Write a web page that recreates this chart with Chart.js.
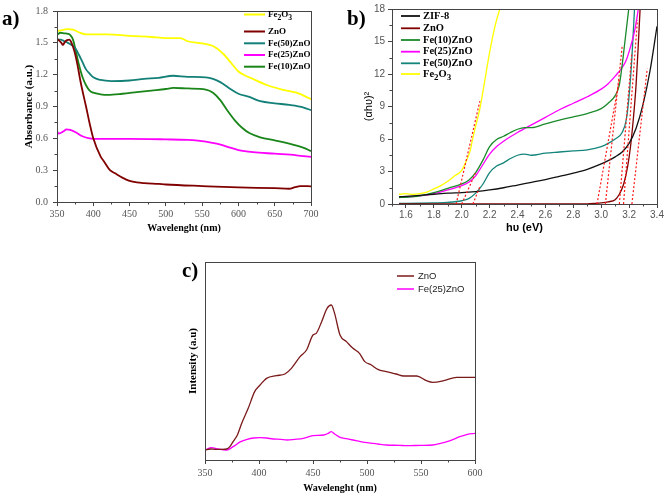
<!DOCTYPE html>
<html>
<head>
<meta charset="utf-8">
<script src="https://cdn.jsdelivr.net/npm/chart.js@4.4.1/dist/chart.umd.min.js"></script>
<style>
	body { margin: 0; background: #fff; width: 665px; height: 499px; position: relative; overflow: hidden; }
	canvas { position: absolute; }
	.tag { position: absolute; font: bold 21px 'Liberation Serif', 'Times New Roman', serif; color: #000; }
</style>
</head>
<body>
<canvas id="absorb" width="330" height="240" style="left:0;top:0"></canvas>
<canvas id="tauc" width="330" height="240" style="left:335px;top:0"></canvas>
<canvas id="pl" width="330" height="249" style="left:160px;top:250px"></canvas>
<div class="tag" style="left:2px;top:6px">a)</div>
<div class="tag" style="left:347px;top:6px">b)</div>
<div class="tag" style="left:182px;top:258px">c)</div>
<script>
// ---- a) absorbance vs wavelength ----
var absXTicks = [ 350, 400, 450, 500, 550, 600, 650, 700 ];
var absYTicks = [ 0, 0.3, 0.6, 0.9, 1.2, 1.5, 1.8 ];

var absFe2o3X = [ 350, 360, 365, 372, 380, 390, 400, 420, 450, 480, 500, 520, 530, 550, 565, 580, 590, 600, 610, 620, 640, 660, 680, 700 ];
var absFe2o3Y = [ 1.61, 1.625, 1.63, 1.625, 1.6, 1.58, 1.58, 1.58, 1.565, 1.555, 1.545, 1.545, 1.515, 1.495, 1.47, 1.39, 1.31, 1.23, 1.19, 1.16, 1.1, 1.06, 1.03, 0.97 ];

var absZnoX = [ 350, 353, 356, 358, 361, 364, 367, 370, 374, 378, 382, 386, 390, 395, 400, 410, 415, 423, 430, 440, 450, 460, 470, 490, 500, 550, 600, 650, 670, 678, 685, 700 ];
var absZnoY = [ 1.54, 1.52, 1.5, 1.48, 1.51, 1.525, 1.53, 1.5, 1.42, 1.3, 1.15, 1.02, 0.9, 0.74, 0.6, 0.43, 0.38, 0.3, 0.27, 0.23, 0.2, 0.185, 0.178, 0.17, 0.165, 0.15, 0.137, 0.13, 0.125, 0.14, 0.15, 0.148 ];

var absFe50X = [ 350, 355, 360, 365, 370, 375, 380, 385, 390, 395, 400, 410, 425, 450, 470, 490, 510, 530, 555, 565, 575, 590, 600, 615, 630, 650, 670, 690, 700 ];
var absFe50Y = [ 1.53, 1.53, 1.515, 1.5, 1.48, 1.45, 1.39, 1.32, 1.25, 1.21, 1.175, 1.15, 1.14, 1.145, 1.16, 1.17, 1.19, 1.18, 1.175, 1.16, 1.13, 1.06, 1.02, 0.99, 0.95, 0.93, 0.915, 0.89, 0.865 ];

var absFe25X = [ 350, 352, 355, 360, 363, 368, 375, 385, 395, 405, 450, 500, 530, 555, 570, 585, 600, 620, 650, 680, 700 ];
var absFe25Y = [ 0.67, 0.645, 0.65, 0.67, 0.685, 0.68, 0.66, 0.62, 0.6, 0.595, 0.595, 0.59, 0.585, 0.57, 0.55, 0.52, 0.49, 0.47, 0.455, 0.44, 0.425 ];

var absFe10X = [ 350, 355, 360, 365, 368, 372, 376, 380, 385, 390, 395, 400, 410, 420, 440, 460, 480, 500, 510, 530, 555, 565, 575, 585, 595, 605, 615, 630, 650, 670, 690, 700 ];
var absFe10Y = [ 1.575, 1.595, 1.59, 1.585, 1.575, 1.53, 1.42, 1.3, 1.18, 1.1, 1.05, 1.03, 1.015, 1.01, 1.02, 1.035, 1.05, 1.065, 1.075, 1.07, 1.06, 1.03, 0.96, 0.86, 0.77, 0.7, 0.65, 0.61, 0.58, 0.55, 0.51, 0.48 ];

// ---- b) Tauc plot ----
var taucXTicks = [ 1.6, 1.8, 2.0, 2.2, 2.4, 2.6, 2.8, 3.0, 3.2, 3.4 ];
var taucYTicks = [ 0, 3, 6, 9, 12, 15, 18 ];

var taucZifX = [ 1.55, 1.6, 1.7, 1.8, 1.9, 2.0, 2.1, 2.2, 2.3, 2.4, 2.5, 2.6, 2.7, 2.8, 2.9, 3.0, 3.05, 3.1, 3.15, 3.2, 3.25, 3.3, 3.35, 3.4 ];
var taucZifY = [ 0.65, 0.7, 0.8, 0.9, 1.0, 1.05, 1.15, 1.3, 1.5, 1.75, 2.0, 2.25, 2.55, 2.85, 3.2, 3.7, 4.0, 4.35, 4.8, 5.6, 7.0, 9.2, 12.3, 16.4 ];

var taucZnoX = [ 1.55, 2.0, 2.5, 2.9, 2.95, 3.0, 3.05, 3.1, 3.13, 3.16, 3.19, 3.21, 3.23, 3.25, 3.265, 3.28 ];
var taucZnoY = [ 0, 0, 0, 0.02, 0.05, 0.1, 0.2, 0.4, 0.9, 1.8, 3.5, 5.3, 7.8, 11, 14.5, 18.3 ];

var taucFe10X = [ 1.55, 1.6, 1.7, 1.8, 1.9, 2.0, 2.05, 2.1, 2.15, 2.2, 2.25, 2.3, 2.35, 2.4, 2.45, 2.5, 2.6, 2.7, 2.8, 2.9, 3.0, 3.05, 3.1, 3.13, 3.15, 3.17, 3.2 ];
var taucFe10Y = [ 0.6, 0.62, 0.75, 1.05, 1.45, 1.85, 2.2, 2.9, 4.0, 5.3, 5.95, 6.25, 6.6, 6.9, 7.05, 7.05, 7.4, 7.75, 8.05, 8.35, 8.8, 9.3, 10.0, 11.0, 12.8, 15.0, 18.3 ];

var taucFe25X = [ 1.55, 1.6, 1.7, 1.8, 1.9, 2.0, 2.05, 2.1, 2.15, 2.2, 2.25, 2.3, 2.4, 2.5, 2.6, 2.7, 2.8, 2.9, 3.0, 3.05, 3.1, 3.15, 3.18, 3.21, 3.24, 3.27 ];
var taucFe25Y = [ 0.65, 0.65, 0.75, 0.95, 1.3, 1.7, 2.0, 2.6, 3.6, 4.6, 5.3, 5.8, 6.6, 7.3, 8.0, 8.7, 9.3, 9.9, 10.6, 11.1, 11.8, 12.6, 13.3, 14.5, 16, 18.3 ];

var taucFe50X = [ 1.55, 1.7, 1.8, 1.9, 2.0, 2.05, 2.1, 2.15, 2.2, 2.25, 2.3, 2.35, 2.4, 2.45, 2.5, 2.6, 2.7, 2.8, 2.9, 3.0, 3.05, 3.1, 3.15, 3.18, 3.2, 3.22, 3.24 ];
var taucFe50Y = [ 0.05, 0.07, 0.1, 0.15, 0.3, 0.5, 1.0, 1.8, 2.9, 3.5, 3.8, 4.2, 4.5, 4.6, 4.5, 4.7, 4.8, 4.9, 5.0, 5.3, 5.6, 6.0, 6.6, 7.8, 10, 13.5, 18.3 ];

var taucFe2o3X = [ 1.55, 1.6, 1.65, 1.7, 1.75, 1.8, 1.85, 1.9, 1.95, 2.0, 2.03, 2.06, 2.08, 2.1, 2.13, 2.16, 2.2, 2.24, 2.28 ];
var taucFe2o3Y = [ 0.9, 0.95, 0.88, 0.95, 1.1, 1.4, 1.7, 2.1, 2.6, 3.1, 3.9, 4.9, 6.1, 7.2, 8.8, 11, 14, 16.5, 18.3 ];

// band-gap extrapolation lines: [x0, y0, x1, y1]
var taucTangents = [
	[ 1.96, 0, 2.13, 9.5 ],
	[ 2.0, 0, 2.1, 2.9 ],
	[ 2.08, 0, 2.13, 1.6 ],
	[ 2.97, 0, 3.13, 11.5 ],
	[ 3.03, 0, 3.15, 14.5 ],
	[ 3.13, 0, 3.22, 14 ],
	[ 3.16, 0, 3.26, 17 ],
	[ 3.22, 0, 3.33, 12.5 ],
];

// ---- c) photoluminescence ----
var plXTicks = [ 350, 400, 450, 500, 550, 600 ];

var plZnoX = [ 350, 355, 360, 366, 370, 373, 376, 380, 384, 390, 396, 401, 407, 416, 424, 430, 438, 444, 450, 453, 458, 463, 467, 470, 475, 481, 487, 493, 498, 504, 510, 518, 527, 534, 546, 555, 561, 571, 583, 600 ];
var plZnoY = [ 30, 33, 32, 32, 33, 40, 55, 75, 110, 155, 205, 225, 245, 253, 258, 275, 310, 330, 375, 380, 415, 455, 465, 440, 375, 355, 335, 320, 295, 285, 272, 265, 258, 252, 252, 238, 233, 238, 248, 248 ];

var plFe25X = [ 350, 356, 362, 370, 376, 383, 389, 395, 401, 407, 413, 420, 426, 433, 441, 450, 460, 464, 467, 470, 475, 481, 487, 494, 500, 510, 518, 530, 537, 550, 561, 568, 574, 580, 586, 593, 600 ];
var plFe25Y = [ 30, 37, 33, 30, 40, 55, 62, 66, 67, 66, 63, 62, 60, 62, 65, 73, 75, 80, 85, 78, 68, 64, 60, 55, 52, 48, 45, 44, 43, 44, 45, 50, 55, 62, 70, 77, 80 ];

var SERIF = "'Liberation Serif', 'Times New Roman', serif";
var SANS  = "'Liberation Sans', Arial, sans-serif";

function toPoints( xs, ys ) {
	return xs.map( function ( x, i ) {
		return { x: x, y: ys[ i ] };
	} );
}

// midpoints between major ticks, used as minor ticks
function minorTicks( major ) {
	var out = [];
	for ( var i = 0; i < major.length - 1; i++ ) {
		out.push( ( major[ i ] + major[ i + 1 ] ) / 2 );
	}
	return out;
}

function curve( label, color, xs, ys, width ) {
	return {
		label: label,
		data: toPoints( xs, ys ),
		borderColor: color,
		borderWidth: width,
		pointRadius: 0,
		fill: false,
		cubicInterpolationMode: 'monotone',
	};
}

// box round the plot area, plus small minor tick marks
var frameAndMinor = {
	id: 'frameAndMinor',
	afterDatasetsDraw: function ( chart, args, opts ) {
		var ctx = chart.ctx;
		var a   = chart.chartArea;
		ctx.save();
		ctx.strokeStyle = opts.color;
		ctx.lineWidth   = 1;
		ctx.strokeRect( Math.round( a.left ) + 0.5, Math.round( a.top ) + 0.5, Math.round( a.right - a.left ), Math.round( a.bottom - a.top ) );
		ctx.beginPath();
		( opts.xMinor || [] ).forEach( function ( v ) {
			var p = Math.round( chart.scales.x.getPixelForValue( v ) ) + 0.5;
			ctx.moveTo( p, a.bottom );
			ctx.lineTo( p, a.bottom + 2.5 );
		} );
		( opts.yMinor || [] ).forEach( function ( v ) {
			var p = Math.round( chart.scales.y.getPixelForValue( v ) ) + 0.5;
			ctx.moveTo( a.left, p );
			ctx.lineTo( a.left - 2.5, p );
		} );
		ctx.stroke();
		ctx.restore();
	},
};

// draws a label where "_x" means x is a subscript
function drawRichText( ctx, text, x, y, size, style, family ) {
	var parts = text.split( /(_.)/ );
	parts.forEach( function ( p ) {
		if ( ! p ) {
			return;
		}
		var sub = p.charAt( 0 ) === '_';
		var t   = sub ? p.charAt( 1 ) : p;
		ctx.font = style + ' ' + ( sub ? size * 0.85 : size ) + 'px ' + family;
		ctx.fillText( t, x, sub ? y + size * 0.35 : y );
		x += ctx.measureText( t ).width;
	} );
}

// legend drawn inside the plot area
var insideLegend = {
	id: 'insideLegend',
	afterDraw: function ( chart, args, opts ) {
		var ctx   = chart.ctx;
		var items = chart.data.datasets.filter( function ( d ) { return ! d.tangent; } );
		ctx.save();
		ctx.textBaseline = 'middle';
		items.forEach( function ( d, i ) {
			var y = opts.rows[ i ];
			ctx.strokeStyle = d.borderColor;
			ctx.lineWidth   = opts.lineWidth;
			ctx.beginPath();
			ctx.moveTo( opts.x, y );
			ctx.lineTo( opts.x + opts.swatch, y );
			ctx.stroke();
			ctx.fillStyle = opts.color;
			drawRichText( ctx, d.label, opts.x + opts.swatch + opts.gap, y, opts.size, opts.style, opts.family );
		} );
		ctx.restore();
	},
};

function axis( ticks, min, max, o ) {
	return {
		type: 'linear',
		min: min,
		max: max,
		afterBuildTicks: function ( scale ) {
			scale.ticks = ticks.map( function ( v ) { return { value: v }; } );
		},
		afterFit: function ( scale ) {
			if ( scale.isHorizontal() ) {
				scale.height = o.size;
			} else {
				scale.width = o.size;
			}
		},
		border: { display: false },
		grid: {
			drawOnChartArea: false,
			drawTicks: o.showTicks !== false,
			tickLength: 4,
			color: '#444',
		},
		ticks: {
			display: o.showTicks !== false,
			padding: o.tickPad,
			color: '#555',
			font: o.tickFont,
			callback: o.format,
		},
		title: {
			display: true,
			text: o.title,
			color: '#000',
			font: o.titleFont,
			padding: o.titlePad,
		},
	};
}

var baseOptions = {
	responsive: false,
	animation: false,
	devicePixelRatio: 1,
	events: [],
};

// a)
new Chart( document.getElementById( 'absorb' ), {
	type: 'line',
	data: {
		datasets: [
			curve( 'Fe_2O_3', '#ffff00', absFe2o3X, absFe2o3Y, 1.8 ),
			curve( 'ZnO', '#800000', absZnoX, absZnoY, 1.8 ),
			curve( 'Fe(50)ZnO', '#138078', absFe50X, absFe50Y, 1.8 ),
			curve( 'Fe(25)ZnO', '#ff00ff', absFe25X, absFe25Y, 1.8 ),
			curve( 'Fe(10)ZnO', '#1a861a', absFe10X, absFe10Y, 1.8 ),
		],
	},
	plugins: [ frameAndMinor, insideLegend ],
	options: Object.assign( {}, baseOptions, {
		layout: { padding: { left: 0, right: 19, top: 7, bottom: 0 } },
		plugins: {
			legend: { display: false },
			tooltip: { enabled: false },
			frameAndMinor: { color: '#444', xMinor: minorTicks( absXTicks ), yMinor: minorTicks( absYTicks ) },
			insideLegend: { x: 244, swatch: 21, gap: 3, lineWidth: 2, size: 9, style: 'bold', family: SERIF, color: '#000', rows: [ 14.5, 31.5, 43.3, 55, 66.7 ] },
		},
		scales: {
			x: axis( absXTicks, 350, 700, {
				size: 38, tickPad: 2, tickFont: { family: SERIF, size: 10 },
				title: 'Wavelenght (nm)', titleFont: { family: SERIF, size: 10, weight: 'bold' }, titlePad: { top: 0, bottom: 6 },
			} ),
			y: axis( absYTicks, 0, 1.8, {
				size: 57, tickPad: 5, tickFont: { family: SERIF, size: 10 },
				format: function ( v ) { return Number( v ).toFixed( 1 ); },
				title: 'Absorbance (a.u.)', titleFont: { family: SERIF, size: 11, weight: 'bold' }, titlePad: { top: 23, bottom: 0 },
			} ),
		},
	} ),
} );

// b)
var tangentSets = taucTangents.map( function ( t ) {
	return {
		tangent: true,
		data: [ { x: t[ 0 ], y: t[ 1 ] }, { x: t[ 2 ], y: t[ 3 ] } ],
		borderColor: '#ff1a1a',
		borderWidth: 1.2,
		borderDash: [ 2, 2 ],
		pointRadius: 0,
		fill: false,
		order: -1,
	};
} );

new Chart( document.getElementById( 'tauc' ), {
	type: 'line',
	data: {
		datasets: [
			curve( 'ZIF-8', '#111111', taucZifX, taucZifY, 1.3 ),
			curve( 'ZnO', '#800000', taucZnoX, taucZnoY, 1.3 ),
			curve( 'Fe(10)ZnO', '#1a8a2a', taucFe10X, taucFe10Y, 1.3 ),
			curve( 'Fe(25)ZnO', '#ff00ff', taucFe25X, taucFe25Y, 1.3 ),
			curve( 'Fe(50)ZnO', '#14857a', taucFe50X, taucFe50Y, 1.3 ),
			curve( 'Fe_2O_3', '#ffff00', taucFe2o3X, taucFe2o3Y, 1.3 ),
		].concat( tangentSets ),
	},
	plugins: [ frameAndMinor, insideLegend ],
	options: Object.assign( {}, baseOptions, {
		layout: { padding: { left: 0, right: 8, top: 6, bottom: 0 } },
		plugins: {
			legend: { display: false },
			tooltip: { enabled: false },
			frameAndMinor: { color: '#444', xMinor: [ 1.5 ].concat( minorTicks( taucXTicks ) ), yMinor: minorTicks( taucYTicks ) },
			insideLegend: { x: 66, swatch: 19, gap: 3, lineWidth: 1.8, size: 10.5, style: 'bold', family: SERIF, color: '#000', rows: [ 16, 28.3, 40, 51.7, 63.3, 74 ] },
		},
		scales: {
			x: axis( taucXTicks, 1.5, 3.4, {
				size: 36, tickPad: 1, tickFont: { family: SANS, size: 10 },
				format: function ( v ) { return Number( v ).toFixed( 1 ); },
				title: 'h\u03c5 (eV)', titleFont: { family: SANS, size: 11, weight: 'bold' }, titlePad: { top: 0, bottom: 5 },
			} ),
			y: axis( taucYTicks, 0, 18, {
				size: 57, tickPad: 3, tickFont: { family: SANS, size: 10 },
				title: '(\u03b1h\u03c5)\u00b2', titleFont: { family: SANS, size: 11 }, titlePad: { top: 27, bottom: 0 },
			} ),
		},
	} ),
} );

// c)
new Chart( document.getElementById( 'pl' ), {
	type: 'line',
	data: {
		datasets: [
			curve( 'ZnO', '#7b1a1a', plZnoX, plZnoY, 1.3 ),
			curve( 'Fe(25)ZnO', '#ff00ff', plFe25X, plFe25Y, 1.3 ),
		],
	},
	plugins: [ frameAndMinor, insideLegend ],
	options: Object.assign( {}, baseOptions, {
		layout: { padding: { left: 0, right: 15, top: 12, bottom: 0 } },
		plugins: {
			legend: { display: false },
			tooltip: { enabled: false },
			frameAndMinor: { color: '#444', xMinor: minorTicks( plXTicks ) },
			insideLegend: { x: 237, swatch: 17, gap: 4, lineWidth: 1.5, size: 9.5, style: 'normal', family: SANS, color: '#222', rows: [ 26, 39 ] },
		},
		scales: {
			x: axis( plXTicks, 350, 600, {
				size: 39, tickPad: 3, tickFont: { family: SERIF, size: 10 },
				title: 'Wavelenght (nm)', titleFont: { family: SERIF, size: 10, weight: 'bold' }, titlePad: { top: 0, bottom: 5 },
			} ),
			y: axis( [], 0, 594, {
				size: 45, showTicks: false,
				title: 'Intensity (a.u)', titleFont: { family: SERIF, size: 11, weight: 'bold' }, titlePad: { top: 27, bottom: 0 },
			} ),
		},
	} ),
} );
</script>
</body>
</html>
